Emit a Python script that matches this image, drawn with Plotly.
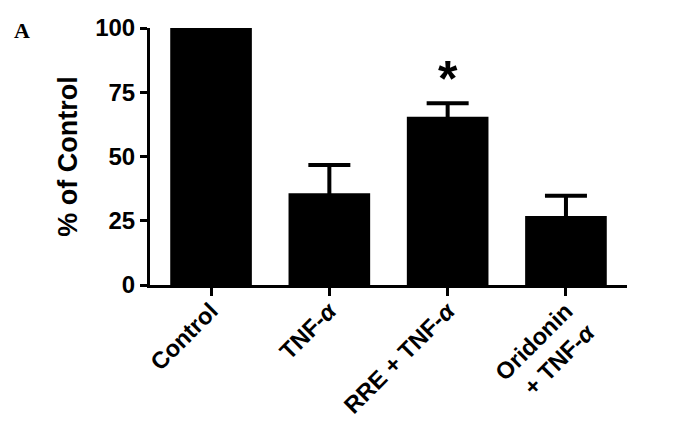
import plotly.graph_objects as go

categories = ["Control", "TNF-<i>α</i>", "RRE + TNF-<i>α</i>", "Oridonin<br>+ TNF-<i>α</i>"]
means = [100, 35.7, 65.5, 26.8]
errors = [0, 11.0, 5.2, 7.9]
significance = ["", "", "*", ""]
y_ticks = [0, 25, 50, 75, 100]

x_idx = list(range(len(categories)))

fig = go.Figure()
fig.add_trace(go.Bar(
    x=x_idx, y=means, width=0.69,
    marker=dict(color="black", line=dict(width=0)),
    error_y=dict(type="data", array=errors, symmetric=True,
                 color="black", thickness=4, width=21),
    showlegend=False,
))

for i, s in enumerate(significance):
    if s:
        fig.add_annotation(x=i, y=means[i] + errors[i], text="<b>" + s + "</b>", showarrow=False,
                           yanchor="bottom", yshift=-6,
                           font=dict(family="Liberation Sans", size=50, color="black"))

fig.add_annotation(xref="paper", yref="paper", x=-0.29, y=0.99, xanchor="left",
                   yanchor="middle", text="<b>A</b>", showarrow=False,
                   font=dict(family="Liberation Serif", size=22, color="black"))

fig.update_layout(
    width=680, height=415,
    margin=dict(l=142, r=61, t=20, b=138, autoexpand=False),
    plot_bgcolor="white", paper_bgcolor="white",
    font=dict(family="Liberation Sans", color="black"),
)
fig.update_xaxes(
    range=[-0.516, 3.516], tickvals=x_idx, ticktext=["<b>" + c + "</b>" for c in categories],
    tickangle=-45, ticks="outside", ticklen=8, tickwidth=3, tickcolor="black",
    ticklabelstandoff=-8,
    showline=True, linewidth=3, linecolor="black", showgrid=False, zeroline=False,
    tickfont=dict(size=23.5, family="Liberation Sans", color="black"),
)
fig.update_yaxes(
    range=[0, 100], tickvals=y_ticks, ticktext=[f"<b>{v}</b>" for v in y_ticks],
    ticks="outside", ticklen=7, tickwidth=3, tickcolor="black",
    showline=True, linewidth=3, linecolor="black", showgrid=False, zeroline=False,
    tickfont=dict(size=24, family="Liberation Sans", color="black"),
    title=dict(text="<b>% of Control</b>", font=dict(size=27, family="Liberation Sans"),
               standoff=10),
)

fig.write_html("out.html")
